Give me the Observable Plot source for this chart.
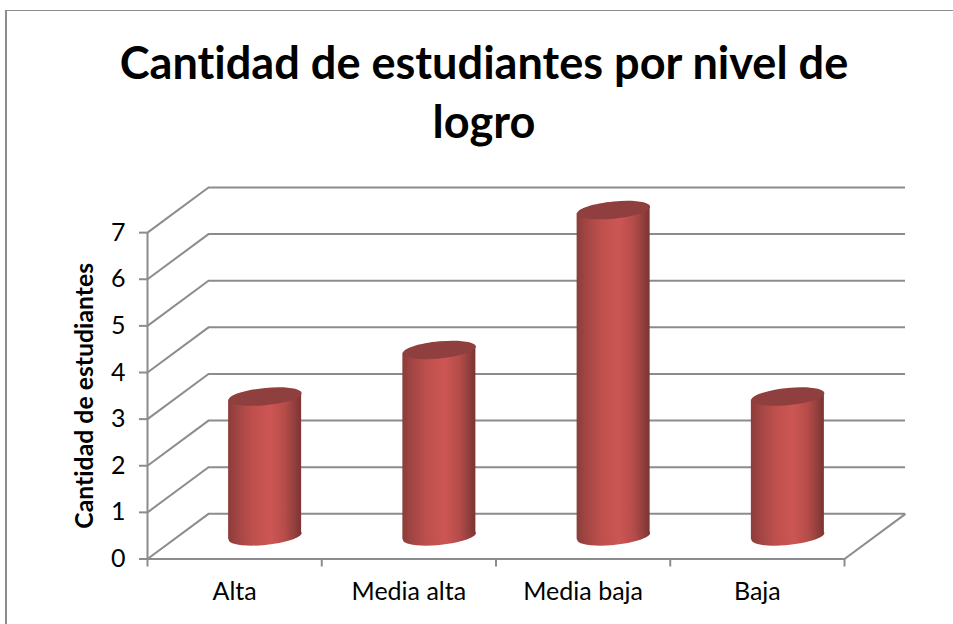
<!DOCTYPE html>
<html lang="es">
<head>
<meta charset="utf-8">
<script src="https://cdn.jsdelivr.net/npm/d3@7"></script>
<script src="https://cdn.jsdelivr.net/npm/@observablehq/plot@0.6"></script>
<style>
  html, body { margin: 0; padding: 0; background: #fff; }
  #page { position: relative; width: 953px; height: 624px; overflow: hidden; font-family: Lato, sans-serif; font-variant-ligatures: none; }
  #frame { position: absolute; left: 5px; top: 10px; right: -4px; bottom: -4px; border-left: 2px solid #8c8c8c; border-top: 1px solid #8c8c8c; }
  #title { position: absolute; left: 0; top: 0; width: 968px; height: 150px; margin: 0; padding-top: 32px; box-sizing: border-box;
           text-align: center; font: 700 45.1px/59px Lato, sans-serif; color: #000; font-variant-ligatures: none; }
  #chart { position: absolute; left: 0; top: 150px; }
  #chart svg { display: block; }
</style>
</head>
<body>
<div id="page">
  <div id="frame"></div>
  <h1 id="title">Cantidad de estudiantes por nivel de<br>logro</h1>
  <div id="chart"></div>
</div>
<script>
const categories = ["Alta", "Media alta", "Media baja", "Baja"];
const values = [3, 4, 7, 3];
const yTicks = [0, 1, 2, 3, 4, 5, 6, 7];
const yLabel = "Cantidad de estudiantes";

// depth of the 3D box and cylinder shape, in data units
const depthX = 0.35, depthY = 0.968;
const halfWidth = 0.2095, tilt = 0.073;

const gridColor = "#8c8c8c";
const gridWidth = 2;
const font = "Lato, sans-serif";

const cylinders = categories.map((c, i) => ({
  c,
  x: i + 0.5 + depthX / 2,
  base: depthY / 2,
  top: values[i] + depthY / 2
}));
const bodies = cylinders.flatMap(d => [
  {c: d.c, x: d.x - halfWidth, y1: d.base - tilt, y2: d.top - tilt},
  {c: d.c, x: d.x + halfWidth, y1: d.base + tilt, y2: d.top + tilt}
]);

// slanted ellipse for the cylinder caps
const slanted = {
  draw(ctx, size) {
    const a = Math.sqrt(size / Math.PI), b = a * 0.235, s = a * 0.093, k = 0.5523;
    const P = (x, y) => [x * a, y * b - x * s];
    const C = (p1, p2, p3) => ctx.bezierCurveTo(...P(...p1), ...P(...p2), ...P(...p3));
    ctx.moveTo(...P(1, 0));
    C([1, k], [k, 1], [0, 1]);
    C([-k, 1], [-1, k], [-1, 0]);
    C([-1, -k], [-k, -1], [0, -1]);
    C([k, -1], [1, -k], [1, 0]);
    ctx.closePath();
  }
};

const defs = () => {
  const g = document.createElementNS("http://www.w3.org/2000/svg", "g");
  g.innerHTML = `<defs><linearGradient id="cyl" x1="0" x2="1" y1="0" y2="0">
    <stop offset="0" stop-color="#8b3c3a"/>
    <stop offset="0.12" stop-color="#a04543"/>
    <stop offset="0.32" stop-color="#bd4f4c"/>
    <stop offset="0.58" stop-color="#cd5654"/>
    <stop offset="0.78" stop-color="#b54c49"/>
    <stop offset="0.92" stop-color="#8f3e3c"/>
    <stop offset="1" stop-color="#7c3432"/>
  </linearGradient></defs>`;
  return g;
};

const line = {stroke: gridColor, strokeWidth: gridWidth};

const chart = Plot.plot({
  width: 953,
  height: 474,
  marginLeft: 147,
  marginRight: 48,
  marginTop: 37,
  marginBottom: 65.5,
  style: {fontFamily: font, background: "transparent", color: "#000", fontVariantLigatures: "none"},
  x: {type: "linear", domain: [0, categories.length + depthX]},
  y: {type: "linear", domain: [0, 7 + depthY]},
  marks: [
    defs,
    // back wall lines
    Plot.ruleY(yTicks.map(v => v + depthY), {x1: depthX, x2: categories.length + depthX, ...line}),
    // side wall diagonals
    Plot.link(yTicks, {x1: 0, y1: v => v, x2: depthX, y2: v => v + depthY, ...line}),
    // floor
    Plot.link([0], {x1: categories.length, y1: 0, x2: categories.length + depthX, y2: depthY, ...line}),
    Plot.ruleY([0], {x1: 0, x2: categories.length, ...line}),
    Plot.ruleX([0], {y1: 0, y2: 7, ...line}),
    // cylinders
    Plot.dot(cylinders, {x: "x", y: "base", r: 36.5, symbol: slanted, fill: "url(#cyl)", stroke: "none"}),
    Plot.areaY(bodies, {x: "x", y1: "y1", y2: "y2", z: "c", fill: "url(#cyl)"}),
    Plot.dot(cylinders, {x: "x", y: "top", r: 36.5, symbol: slanted, fill: "#8f3f3d", stroke: "none"}),
    // axes
    Plot.axisY({ticks: yTicks, tickSize: 8, tickPadding: 14, label: null, fontSize: 25, stroke: gridColor, strokeWidth: gridWidth, color: "#000", textStroke: "none"}),
    Plot.axisX({ticks: d3.range(categories.length + 1), tickFormat: () => "", tickSize: 8, label: null, stroke: gridColor, strokeWidth: gridWidth}),
    Plot.axisX({ticks: categories.map((c, i) => i + 0.5), tickFormat: v => categories[v - 0.5], tickSize: 0, tickPadding: 23, label: null, fontSize: 25}),
    Plot.text([yLabel], {x: 0, y: 3.5, rotate: -90, dx: -62, fontSize: 24.8, fontWeight: "bold", fill: "#000"})
  ]
});
document.getElementById("chart").append(chart);
</script>
</body>
</html>
